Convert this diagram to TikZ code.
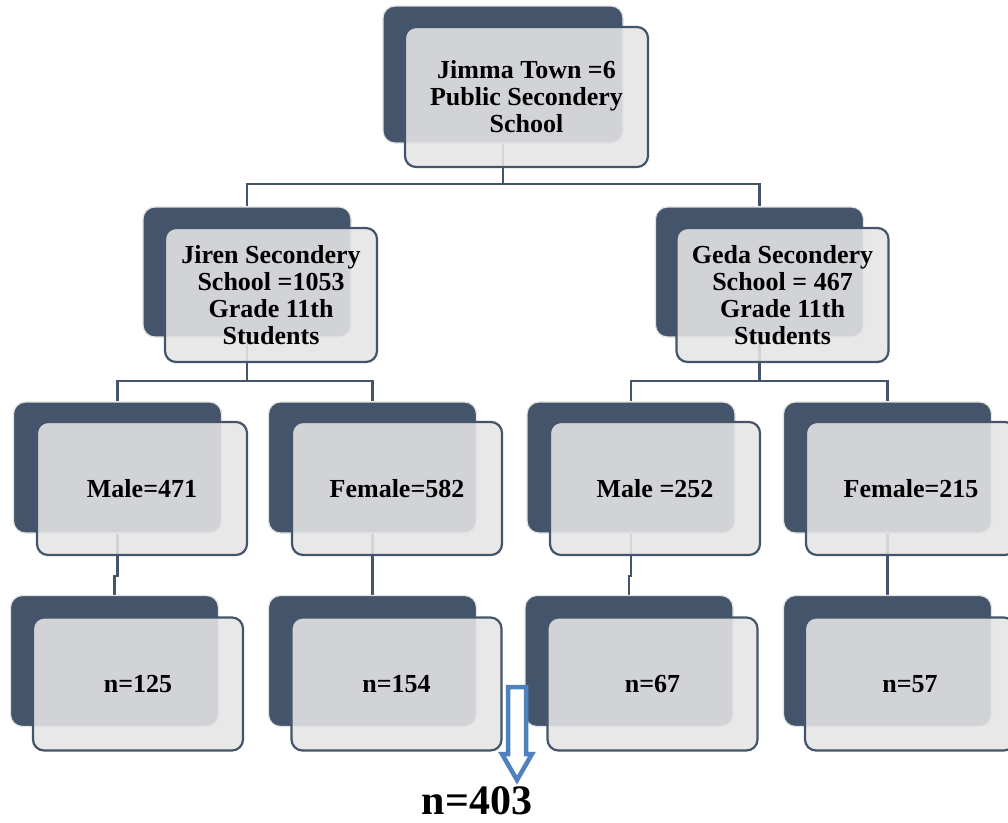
\documentclass[tikz,border=0pt]{standalone}
\usepackage{fontspec}
\setmainfont{Liberation Serif}
\usetikzlibrary{backgrounds}
\definecolor{navy}{HTML}{44546A}
\definecolor{paper}{HTML}{E5E5E5}
\definecolor{rim}{HTML}{E2E2E2}
\definecolor{blockblue}{HTML}{4F81BD}

\begin{document}
\begin{tikzpicture}[x=1pt,y=-1pt,
  back/.style={rectangle,rounded corners=12pt,fill=navy,draw=rim,line width=1.2pt,
               minimum width=208pt,minimum height=131pt},
  front/.style={rectangle,rounded corners=11pt,fill=paper,fill opacity=0.88,text opacity=1,
                draw=navy,line width=2.2pt,minimum width=210pt,minimum height=133pt,
                align=center,font=\fontsize{26}{27}\selectfont\bfseries},
  link/.style={draw=navy,line width=2.2pt},
  sumarrow/.style={draw=blockblue,line width=4.5pt,fill=white,line join=miter}
]
\useasboundingbox (0,0) rectangle (1008,822);

\node[back,minimum width=240pt,minimum height=137pt] (townB) at (503,74.5) {};
\node[front,minimum width=243pt,minimum height=140pt] (town) at (526.5,97) {Jimma Town =6\\Public Secondery\\School};

\node[back,minimum height=130pt] (jirenB) at (247,272) {};
\node[front,minimum width=212pt,minimum height=134pt] (jiren) at (271,295) {Jiren Secondery\\School =1053\\Grade 11th\\Students};
\node[back,minimum height=130pt] (gedaB) at (759.5,272) {};
\node[front,minimum width=212pt,minimum height=134pt] (geda) at (782.5,295) {Geda Secondery\\School = 467\\Grade 11th\\Students};

\node[back] (male1B)   at (117.5,467.5) {};
\node[front] (male1)   at (142,488.5)   {Male=471};
\node[back] (female1B) at (372.5,467.5) {};
\node[front] (female1) at (397,488.5)   {Female=582};
\node[back] (male2B)   at (631,467.5)   {};
\node[front] (male2)   at (655,488.5)   {Male =252};
\node[back] (female2B) at (887.5,467.5) {};
\node[front] (female2) at (911,488.5)   {Female=215};

\node[back] (n1B) at (114.5,661) {};
\node[front] (n1) at (138,684)   {n=125};
\node[back] (n2B) at (372.5,661) {};
\node[front] (n2) at (396.5,684) {n=154};
\node[back] (n3B) at (629,661)   {};
\node[front] (n3) at (652.5,684) {n=67};
\node[back] (n4B) at (887.5,661) {};
\node[front] (n4) at (910,684)   {n=57};

\node[font=\fontsize{42}{44}\selectfont\bfseries] (total) at (477,801) {n=403};
\draw[sumarrow] (508,687) -- (526,687) -- (526,754) -- (532,754) -- (517,780)
  -- (502,754) -- (508,754) -- cycle;

\begin{scope}[on background layer]
\fill[white] (0,0) rectangle (1008,822);
\draw[link] (townB.south) -- ++(0,40) -| (jirenB.north);
\draw[link] (townB.south) -- ++(0,40) -| (gedaB.north);
\draw[link] (jirenB.south) -- ++(0,43) -| (male1B.north);
\draw[link] (jirenB.south) -- ++(0,43) -| (female1B.north);
\draw[link] (gedaB.south) -- ++(0,43) -| (male2B.north);
\draw[link] (gedaB.south) -- ++(0,43) -| (female2B.north);
\draw[link] (male1B.south) -- ++(0,42) -| (n1B.north);
\draw[link] (female1B.south) -- ++(0,42) -| (n2B.north);
\draw[link] (male2B.south) -- ++(0,42) -| (n3B.north);
\draw[link] (female2B.south) -- ++(0,42) -| (n4B.north);
\end{scope}
\end{tikzpicture}
\end{document}
